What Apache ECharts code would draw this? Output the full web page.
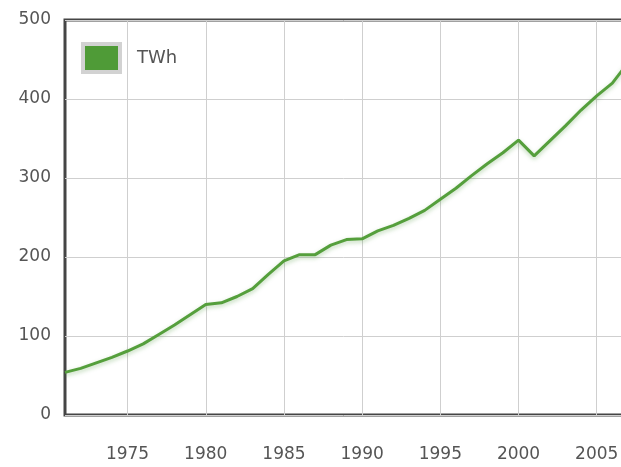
<!DOCTYPE html>
<html>
<head>
<meta charset="utf-8">
<script src="https://cdn.jsdelivr.net/npm/echarts@6/dist/echarts.min.js"></script>
<style>
  html, body { margin: 0; padding: 0; background: #fff; }
  #chart { width: 621px; height: 467px; }
</style>
</head>
<body>
<div id="chart"></div>
<script>
  // years on the x axis
  var years = [];
  for (var y = 1971; y <= 2007; y++) years.push(String(y));

  // electricity use, TWh
  var twh = [54, 59, 66, 73, 81, 90, 102, 114, 127, 140,
             142, 150, 160, 178, 195, 203, 203, 215, 222, 223,
             233, 240, 249, 259, 273, 287, 303, 318, 332, 348,
             328, 347, 366, 386, 404, 420, 446];

  var seriesName = 'TWh';

  var chart = echarts.init(document.getElementById('chart'));

  // 只在 5 的倍数年份画刻度和竖线
  var everyFive = function (index, value) {
    return Number(value) % 5 === 0;
  };

  chart.setOption({
    animation: false,
    backgroundColor: '#fff',
    textStyle: { fontFamily: 'DejaVu Sans' },
    grid: {
      left: 65,
      width: 563,
      top: 20,
      bottom: 52,
      outerBoundsMode: 'none',
      show: true,
      borderColor: '#454545',
      borderWidth: 3
    },
    legend: {
      left: 76,
      top: 37,
      orient: 'vertical',
      icon: 'rect',
      itemWidth: 37,
      itemHeight: 28,
      itemGap: 12,
      data: [seriesName],
      textStyle: {
        color: '#555',
        fontSize: 18,
        fontFamily: 'DejaVu Sans',
        padding: [0, 0, 0, 12]
      },
      itemStyle: { borderColor: '#d2d2d2', borderWidth: 4 }
    },
    xAxis: {
      type: 'category',
      data: years,
      boundaryGap: false,
      axisLine: { show: false },
      axisTick: { show: false },
      axisLabel: {
        interval: everyFive,
        color: '#555',
        fontSize: 17,
        margin: 31
      },
      splitLine: {
        show: true,
        interval: everyFive,
        lineStyle: { color: '#cfcfcf', width: 1 }
      }
    },
    yAxis: {
      type: 'value',
      min: 0,
      max: 500,
      interval: 100,
      axisLine: { show: false },
      axisTick: { show: false },
      axisLabel: { color: '#555', fontSize: 17, margin: 14 },
      splitLine: { lineStyle: { color: '#cfcfcf', width: 1 } }
    },
    series: [
      {
        name: seriesName,
        type: 'line',
        data: twh,
        showSymbol: false,
        symbol: 'none',
        color: '#4f9b37',
        lineStyle: {
          width: 3,
          color: '#559f3c',
          shadowColor: 'rgba(60, 140, 40, 0.35)',
          shadowBlur: 4,
          shadowOffsetY: 2
        }
      }
    ]
  });
</script>
</body>
</html>
